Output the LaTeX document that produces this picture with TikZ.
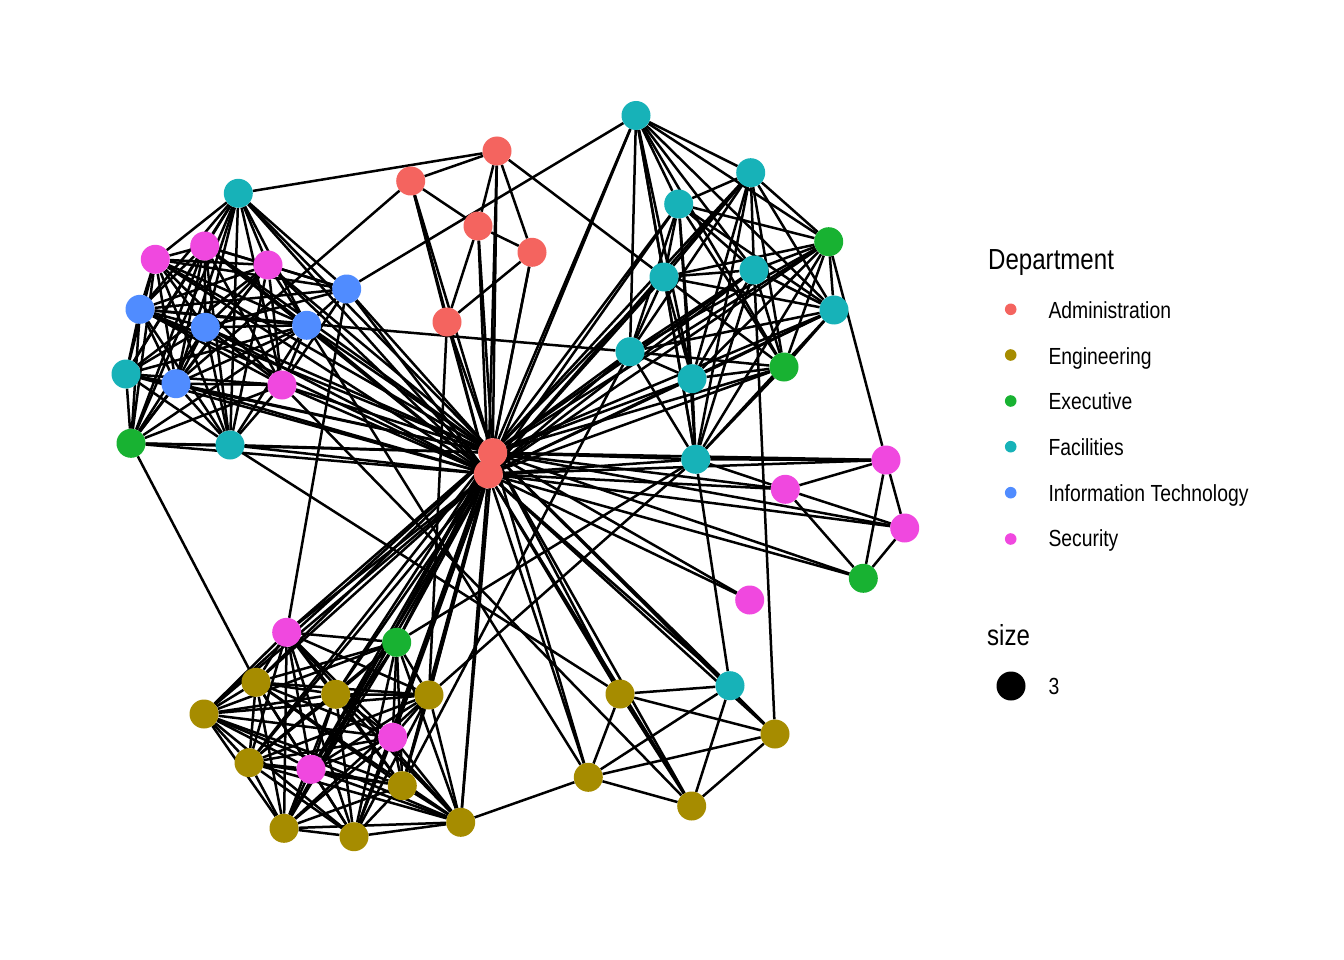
\documentclass[tikz,border=0pt]{standalone}
\usepackage{fontspec}
\setmainfont[FakeStretch=0.83]{Liberation Sans}
\usetikzlibrary{backgrounds}
\definecolor{cA}{HTML}{F4645F}
\definecolor{cG}{HTML}{A68C00}
\definecolor{cX}{HTML}{18B232}
\definecolor{cF}{HTML}{17B2B8}
\definecolor{cI}{HTML}{508CFF}
\definecolor{cS}{HTML}{F048DF}
\newcommand\mkclique[1]{%
  \foreach \a [count=\i] in {#1} {%
    \foreach \b [count=\j] in {#1} {%
      \ifnum\j>\i \draw[edge] (\a) -- (\b);\fi}}}
\begin{document}
\begin{tikzpicture}[x=1pt,y=-1pt,
  vtx/.style={circle,inner sep=0pt,minimum size=29pt,draw=none},
  edge/.style={line width=2.5pt,black},
  ldot/.style={circle,inner sep=0pt,minimum size=11.6pt,draw=none},
  ltitle/.style={anchor=base west,inner sep=0pt,font=\fontsize{29}{34}\selectfont},
  ltext/.style={anchor=base west,inner sep=0pt,font=\fontsize{23.3}{28}\selectfont}]
\useasboundingbox (0,0) rectangle (1344,960);
% Administration
\node[vtx,fill=cA] (A1) at (497,151) {};
\node[vtx,fill=cA] (A2) at (410.7,181) {};
\node[vtx,fill=cA] (A3) at (478,226) {};
\node[vtx,fill=cA] (A4) at (532,252.3) {};
\node[vtx,fill=cA] (A5) at (447,322) {};
% Facilities
\node[vtx,fill=cF] (F1) at (636,115.5) {};
\node[vtx,fill=cF] (F2) at (750.7,172.7) {};
\node[vtx,fill=cF] (F3) at (678.7,204) {};
\node[vtx,fill=cF] (F4) at (664,277) {};
\node[vtx,fill=cF] (F5) at (754,270) {};
\node[vtx,fill=cF] (F6) at (834,310) {};
\node[vtx,fill=cF] (F7) at (630,351.7) {};
\node[vtx,fill=cF] (F8) at (692,378.7) {};
\node[vtx,fill=cF] (F9) at (695.7,459.3) {};
\node[vtx,fill=cF] (F10) at (238.3,193.3) {};
\node[vtx,fill=cF] (F11) at (126,374) {};
\node[vtx,fill=cF] (F12) at (230,445) {};
\node[vtx,fill=cF] (F13) at (730,685.7) {};
% Executive
\node[vtx,fill=cX] (E1) at (828.7,241.7) {};
\node[vtx,fill=cX] (E2) at (784,367) {};
\node[vtx,fill=cX] (E3) at (131,443.3) {};
\node[vtx,fill=cX] (E4) at (863.3,578.3) {};
\node[vtx,fill=cX] (E5) at (396.7,642.3) {};
% Information Technology
\node[vtx,fill=cI] (I1) at (346.7,289) {};
\node[vtx,fill=cI] (I2) at (140,309.3) {};
\node[vtx,fill=cI] (I3) at (205.3,327.3) {};
\node[vtx,fill=cI] (I4) at (306.7,325.3) {};
\node[vtx,fill=cI] (I5) at (176,383.7) {};
% Security
\node[vtx,fill=cS] (S1) at (155.3,259.3) {};
\node[vtx,fill=cS] (S2) at (204.7,246) {};
\node[vtx,fill=cS] (S3) at (268,265) {};
\node[vtx,fill=cS] (S4) at (282,385) {};
\node[vtx,fill=cS] (S5) at (886,460) {};
\node[vtx,fill=cS] (S6) at (785.3,489.3) {};
\node[vtx,fill=cS] (S7) at (904.7,528) {};
\node[vtx,fill=cS] (S8) at (749.7,600) {};
\node[vtx,fill=cS] (S9) at (286.7,632.3) {};
\node[vtx,fill=cS] (S10) at (392.7,737.3) {};
\node[vtx,fill=cS] (S11) at (311,769.3) {};
% Engineering
\node[vtx,fill=cG] (G1) at (256,682.3) {};
\node[vtx,fill=cG] (G2) at (335.7,694.3) {};
\node[vtx,fill=cG] (G3) at (429,695) {};
\node[vtx,fill=cG] (G4) at (204,714) {};
\node[vtx,fill=cG] (G5) at (249,762.7) {};
\node[vtx,fill=cG] (G6) at (402.3,785.7) {};
\node[vtx,fill=cG] (G7) at (284,828.3) {};
\node[vtx,fill=cG] (G8) at (354,836.7) {};
\node[vtx,fill=cG] (G9) at (460.7,822.3) {};
\node[vtx,fill=cG] (G10) at (620,694) {};
\node[vtx,fill=cG] (G11) at (588.3,777.3) {};
\node[vtx,fill=cG] (G12) at (691.7,806) {};
\node[vtx,fill=cG] (G13) at (775,734) {};
% hubs
\node[vtx,fill=cA] (H2) at (488.3,474) {};
\node[vtx,fill=cA] (H1) at (492.7,452.7) {};

\begin{scope}[on background layer]
% hub connections
\foreach \n in {A1,A2,A3,A4,A5,F1,F2,F3,F4,F5,F6,F7,F8,F9,F10,F11,F12,F13,E1,E2,E3,E4,E5,I1,I2,I3,I4,I5,S1,S2,S3,S4,S5,S6,S7,S8,S9,S10,S11,G1,G2,G3,G4,G5,G6,G7,G8,G9,G10,G11,G12,G13} {
  \draw[edge] (H1) -- (\n);
  \draw[edge] (H2) -- (\n);
}
\draw[edge] (H1) -- (H2);
% clusters
\mkclique{F10,S1,S2,S3,I2,I3,I4,I5,F11,S4,E3,F12}
\foreach \n in {F10,S1,S2,S3,I2,I3,I4,S4} {\draw[edge] (I1) -- (\n);}
\mkclique{F1,F2,F3,F4,F5,E1,F6,F7,F8,E2,F9}
\mkclique{S9,E5,G1,G2,G3,G4,S10,G5,S11,G6,G7,G8,G9}
% other edges
\foreach \a/\b in {A1/A2,A1/A3,A1/A4,A1/F10,A1/F4,A2/A3,A2/A5,A2/I5,A3/A4,A3/A5,A4/A5,
  S5/S6,S5/S7,S5/E4,S6/S7,S6/E4,S7/E4,F9/S5,F9/S6,E1/S5,
  G10/F13,G10/G13,G10/G11,G10/G12,F13/G11,F13/G12,G13/G11,G13/G12,G11/G12,G9/G11,F9/F13,F5/G13,
  F1/I1,F7/I2,E3/G1,F12/G10,I1/S9,A5/G3,F9/G3,E5/F9,G6/F7,I4/G11,S4/G12} {
  \draw[edge] (\a) -- (\b);
}
\end{scope}

% legend
\node[ltitle] (ttl) at (988,269.3) {Department};
\node[ldot,fill=cA] (d1) at (1010.7,309.3) {};
\node[ldot,fill=cG] (d2) at (1010.7,355) {};
\node[ldot,fill=cX] (d3) at (1010.7,401) {};
\node[ldot,fill=cF] (d4) at (1010.7,446.7) {};
\node[ldot,fill=cI] (d5) at (1010.7,492.7) {};
\node[ldot,fill=cS] (d6) at (1010.7,539) {};
\node[ltext] (t1) at (1048.3,318.3) {Administration};
\node[ltext] (t2) at (1048.3,364) {Engineering};
\node[ltext] (t3) at (1048.3,409.7) {Executive};
\node[ltext] (t4) at (1048.3,455.3) {Facilities};
\node[ltext] (t5) at (1048.3,501) {Information Technology};
\node[ltext] (t6) at (1048.3,546.7) {Security};
\node[ltitle] (stl) at (987,645) {size};
\node[vtx,fill=black] (sd) at (1011,686) {};
\node[ltext] (s3) at (1048.3,694.5) {3};
\end{tikzpicture}
\end{document}
